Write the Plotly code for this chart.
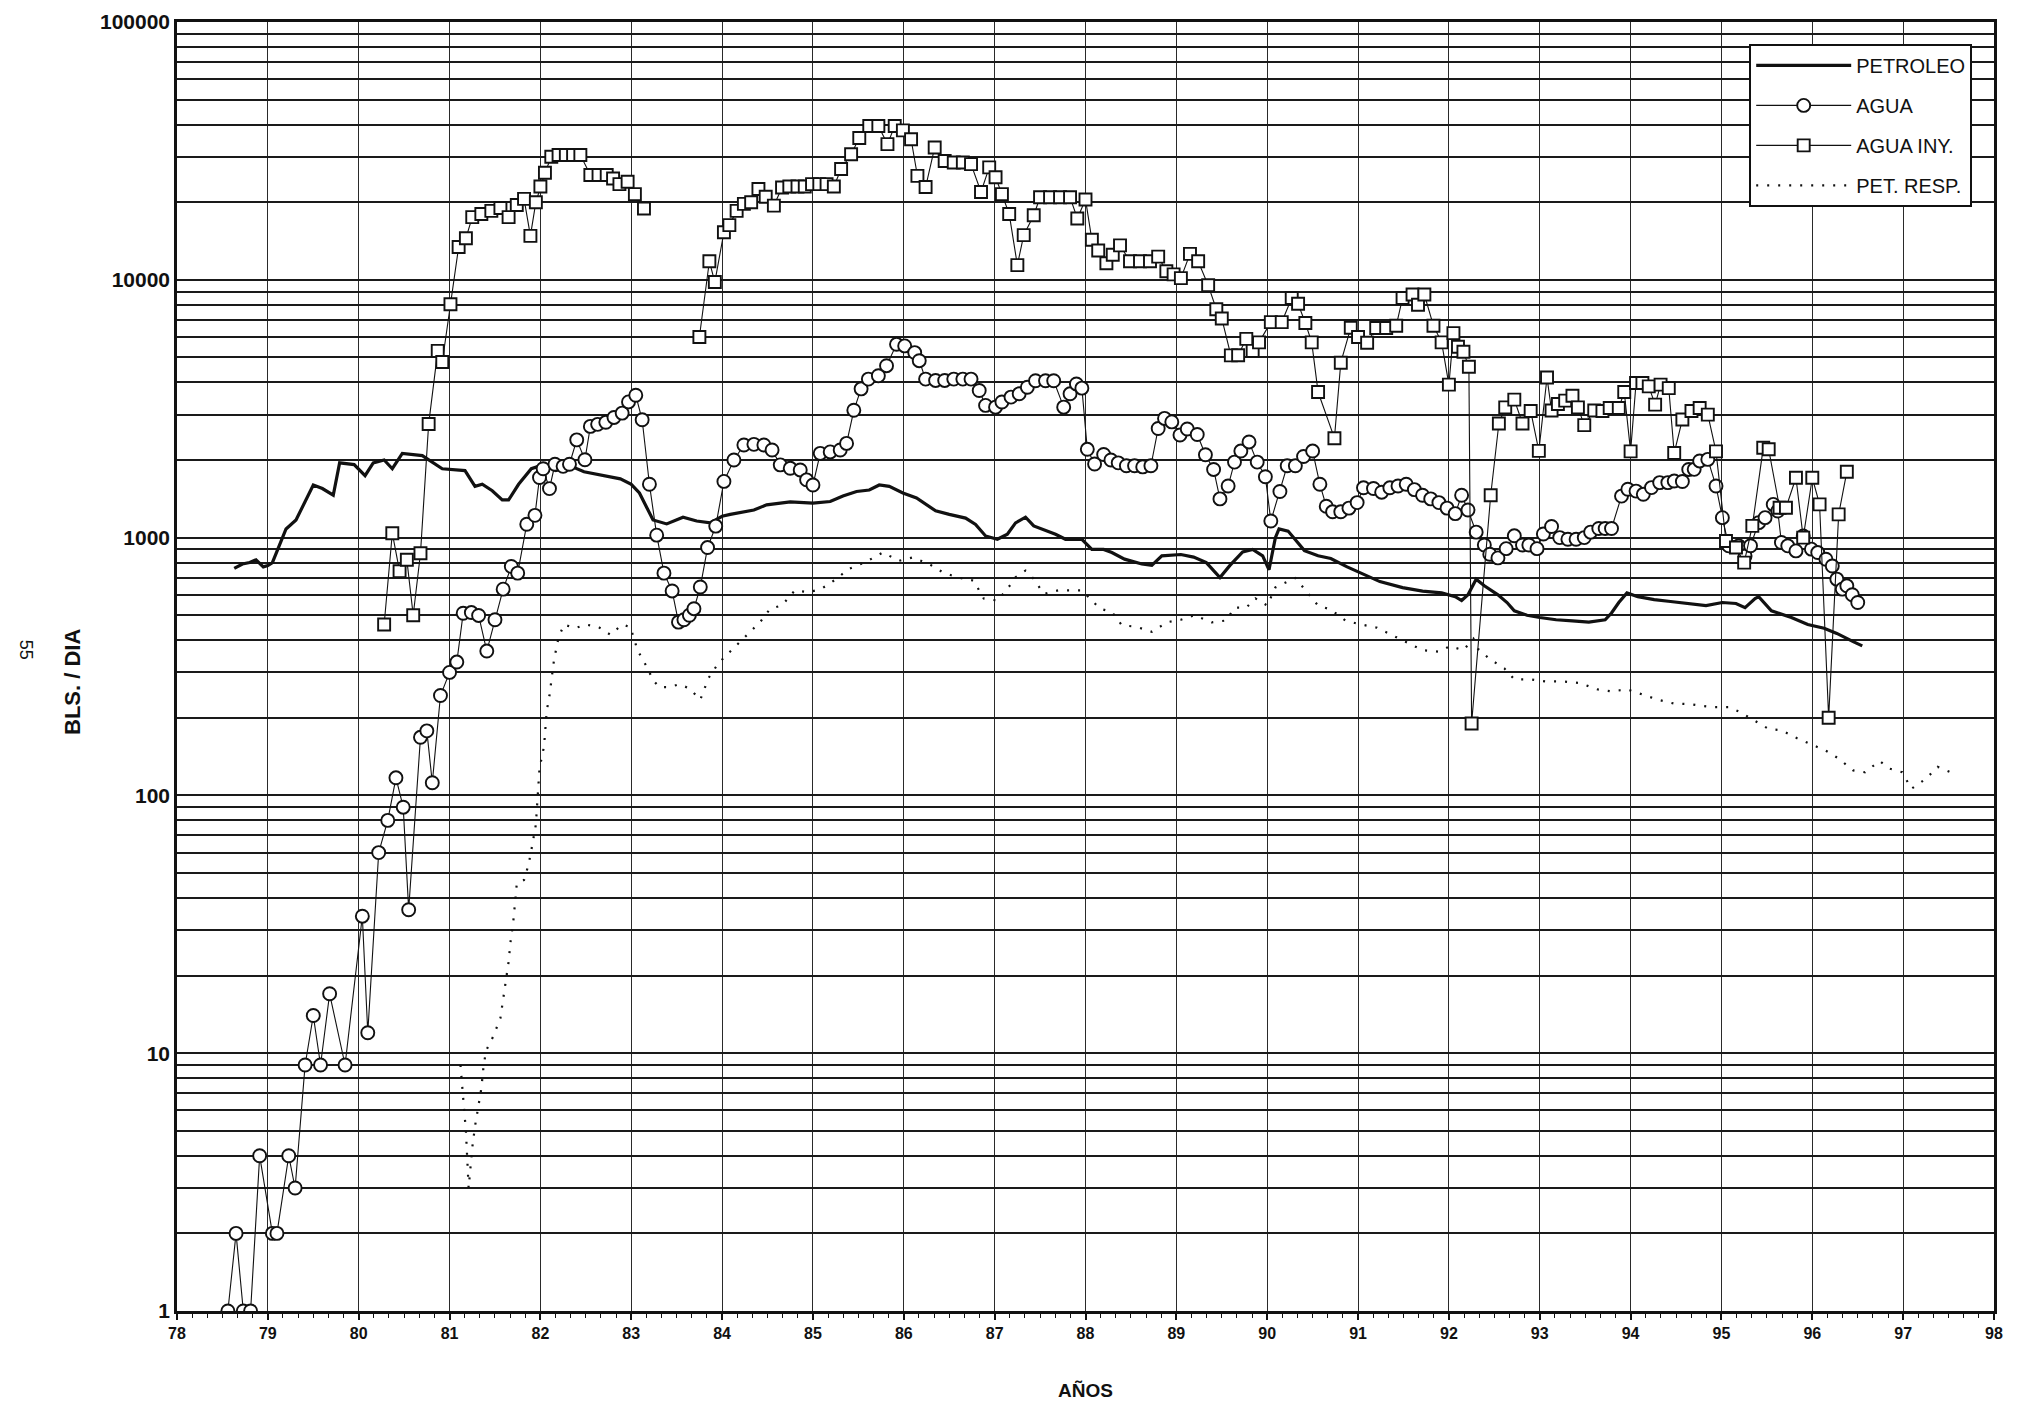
import plotly.graph_objects as go

# ---------------- data (years as decimal, values in BLS/DIA) ----------------
petroleo_t = [78.63, 78.72, 78.80, 78.87, 78.95, 79.00, 79.05, 79.20, 79.31, 79.50, 79.60, 79.72, 79.79, 79.95,
              80.07, 80.16, 80.28, 80.37, 80.48, 80.62, 80.70, 80.92, 81.06, 81.17, 81.28, 81.36, 81.47, 81.58,
              81.65, 81.76, 81.90, 82.04, 82.17, 82.34, 82.48, 82.68, 82.88, 83.00, 83.09, 83.24, 83.39, 83.57,
              83.72, 83.87, 84.00, 84.09, 84.35, 84.49, 84.75, 85.00, 85.19, 85.33, 85.48, 85.62, 85.73, 85.84,
              85.99, 86.14, 86.35, 86.50, 86.68, 86.79, 86.90, 87.03, 87.14, 87.23, 87.34, 87.43, 87.54, 87.67,
              87.78, 87.96, 88.07, 88.20, 88.29, 88.43, 88.62, 88.73, 88.84, 89.05, 89.19, 89.33, 89.48, 89.59,
              89.73, 89.84, 89.95, 90.02, 90.09, 90.13, 90.23, 90.41, 90.56, 90.70, 90.88, 91.06, 91.24, 91.49,
              91.71, 91.92, 92.07, 92.14, 92.21, 92.30, 92.39, 92.54, 92.64, 92.72, 92.86, 93.00, 93.18, 93.36,
              93.54, 93.72, 93.79, 93.87, 93.96, 94.08, 94.26, 94.44, 94.62, 94.83, 95.01, 95.16, 95.26, 95.37,
              95.41, 95.55, 95.77, 95.95, 96.13, 96.27, 96.45, 96.55]
petroleo_v = [760, 790, 800, 820, 770, 780, 800, 1080, 1170, 1600, 1550, 1460, 1950, 1920,
              1740, 1950, 2000, 1850, 2120, 2100, 2080, 1850, 1830, 1820, 1580, 1610, 1520, 1400,
              1400, 1610, 1850, 1920, 1820, 1890, 1800, 1740, 1690, 1610, 1490, 1170, 1130, 1200,
              1160, 1140, 1210, 1230, 1280, 1340, 1375, 1360, 1380, 1450, 1510, 1530, 1600, 1580,
              1490, 1425, 1270, 1230, 1190, 1125, 1015, 985, 1030, 1140, 1200, 1110, 1075, 1030,
              985, 985, 900, 900, 875, 825, 790, 780, 850, 860, 840, 800, 700, 780,
              880, 900, 850, 750, 1000, 1080, 1060, 890, 850, 830, 770, 720, 675, 640,
              620, 610, 590, 570, 600, 690, 650, 600, 560, 520, 500, 490, 480, 475,
              470, 480, 510, 560, 610, 590, 575, 565, 555, 545, 560, 555, 535, 580,
              590, 520, 490, 460, 445, 425, 395, 380]

agua_t = [78.56, 78.65, 78.73, 78.81, 78.91, 79.05, 79.10, 79.23, 79.30, 79.41, 79.50, 79.58, 79.68, 79.85,
          80.04, 80.10, 80.22, 80.32, 80.41, 80.49, 80.55, 80.68, 80.75, 80.81, 80.90, 81.00, 81.08, 81.15,
          81.24, 81.32, 81.41, 81.50, 81.59, 81.68, 81.75, 81.85, 81.94, 81.99, 82.03, 82.10, 82.16, 82.25,
          82.32, 82.40, 82.49, 82.55, 82.63, 82.72, 82.81, 82.90, 82.97, 83.05, 83.12, 83.20, 83.28, 83.36,
          83.45, 83.52, 83.58, 83.64, 83.69, 83.76, 83.84, 83.93, 84.02, 84.13, 84.24, 84.35, 84.46, 84.55,
          84.64, 84.75, 84.86, 84.93, 85.00, 85.08, 85.19, 85.30, 85.37, 85.45, 85.53, 85.61, 85.72, 85.81,
          85.92, 86.01, 86.12, 86.17, 86.24, 86.35, 86.45, 86.55, 86.65, 86.74, 86.83, 86.90, 87.01, 87.08,
          87.18, 87.27, 87.36, 87.45, 87.56, 87.65, 87.76, 87.83, 87.90, 87.96, 88.02, 88.10, 88.20, 88.28,
          88.36, 88.45, 88.54, 88.63, 88.72, 88.80, 88.87, 88.95, 89.04, 89.12, 89.23, 89.32, 89.41, 89.48,
          89.57, 89.64, 89.71, 89.80, 89.89, 89.98, 90.04, 90.14, 90.22, 90.31, 90.40, 90.50, 90.58, 90.65,
          90.72, 90.81, 90.90, 90.99, 91.06, 91.17, 91.26, 91.35, 91.44, 91.53, 91.62, 91.71, 91.80, 91.89,
          91.98, 92.07, 92.14, 92.21, 92.30, 92.39, 92.45, 92.54, 92.63, 92.72, 92.81, 92.88, 92.97, 93.04,
          93.13, 93.22, 93.31, 93.40, 93.49, 93.56, 93.65, 93.72, 93.79, 93.90, 93.97, 94.06, 94.14, 94.23,
          94.32, 94.41, 94.48, 94.57, 94.64, 94.70, 94.76, 94.85, 94.94, 95.01, 95.08, 95.19, 95.26, 95.32,
          95.41, 95.48, 95.57, 95.62, 95.66, 95.73, 95.82, 95.90, 95.99, 96.06, 96.15, 96.22, 96.27, 96.33,
          96.38, 96.44, 96.50]
agua_v = [1, 2, 1, 1, 4, 2, 2, 4, 3, 9, 14, 9, 17, 9,
          34, 12, 60, 80, 117, 90, 36, 168, 178, 112, 244, 300, 329, 509,
          512, 499, 363, 480, 631, 773, 728, 1127, 1220, 1710, 1849, 1549, 1925, 1890,
          1925, 2394, 2004, 2700, 2750, 2800, 2925, 3040, 3360, 3565, 2865, 1610, 1022, 728,
          621, 470, 480, 500, 530, 643, 915, 1108, 1652, 2000, 2287, 2300, 2287, 2187,
          1915, 1857, 1830, 1675, 1600, 2122, 2150, 2187, 2320, 3118, 3775, 4120, 4245, 4643,
          5620, 5540, 5220, 4855, 4120, 4070, 4070, 4120, 4120, 4120, 3720, 3257, 3207, 3356,
          3508, 3612, 3830, 4060, 4060, 4060, 3207, 3612, 3945, 3800, 2200, 1930, 2100, 2000,
          1950, 1900, 1900, 1880, 1900, 2650, 2900, 2810, 2500, 2637, 2512, 2096, 1838, 1413,
          1585, 1963, 2166, 2350, 1963, 1722, 1160, 1509, 1900, 1900, 2063, 2166, 1610, 1323,
          1259, 1259, 1301, 1367, 1560, 1550, 1500, 1560, 1585, 1610, 1535, 1460, 1413, 1367,
          1301, 1239, 1460, 1280, 1050, 936, 862, 834, 906, 1016, 936, 936, 906, 1033,
          1104, 1000, 985, 985, 1000, 1050, 1085, 1085, 1085, 1449, 1540, 1515, 1472, 1563,
          1634, 1634, 1657, 1650, 1838, 1840, 1983, 2011, 1585, 1195, 929, 929, 849, 930,
          1143, 1195, 1345, 1268, 957, 929, 888, 1015, 902, 875, 824, 776, 690, 631,
          650, 600, 560]

agua_iny_t = [80.28, 80.37, 80.45, 80.53, 80.60, 80.68, 80.77, 80.87, 80.92, 81.01, 81.10, 81.18, 81.25, 81.35,
              81.46, 81.56, 81.65, 81.74, 81.82, 81.89, 81.95, 82.00, 82.05, 82.12, 82.20, 82.28, 82.36, 82.44,
              82.55, 82.64, 82.73, 82.80, 82.87, 82.96, 83.04, 83.14, None,
              83.75, 83.86, 83.92, 84.02, 84.08, 84.16, 84.24, 84.32, 84.40, 84.48, 84.57, 84.66, 84.74,
              84.83, 84.91, 84.99, 85.07, 85.15, 85.23, 85.31, 85.42, 85.51, 85.62, 85.72, 85.82, 85.90, 85.99,
              86.08, 86.15, 86.24, 86.34, 86.45, 86.55, 86.65, 86.74, 86.85, 86.94, 87.01, 87.08, 87.16, 87.25,
              87.32, 87.43, 87.50, 87.61, 87.72, 87.83, 87.91, 88.00, 88.07, 88.14, 88.23, 88.30, 88.38, 88.49,
              88.60, 88.71, 88.80, 88.89, 88.97, 89.05, 89.15, 89.24, 89.35, 89.44, 89.50, 89.60, 89.68, 89.77,
              89.84, 89.91, 90.04, 90.16, 90.27, 90.34, 90.42, 90.49, 90.56, 90.74, 90.81, 90.92, 91.00, 91.10,
              91.20, 91.31, 91.42, 91.49, 91.60, 91.66, 91.73, 91.83, 91.92, 92.00, 92.05, 92.10, 92.16, 92.22,
              92.25, 92.46, 92.55, 92.62, 92.72, 92.81, 92.90, 92.99, 93.08, 93.13, 93.20, 93.28, 93.36, 93.42,
              93.49, 93.60, 93.69, 93.77, 93.87, 93.93, 94.00, 94.06, 94.13, 94.20, 94.27, 94.33, 94.42, 94.48,
              94.57, 94.67, 94.76, 94.85, 94.94, 95.05, 95.16, 95.25, 95.34, 95.46, 95.52, 95.64, 95.71, 95.82,
              95.90, 96.00, 96.08, 96.18, 96.29, 96.38]
agua_iny_v = [460, 1040, 740, 820, 500, 870, 2757, 5300, 4800, 8040, 13400, 14500, 17500, 18000,
              18500, 19000, 17500, 19500, 20600, 14800, 20000, 23000, 26000, 30000, 30500, 30500, 30500, 30500,
              25500, 25500, 25500, 24700, 23500, 24000, 21500, 18900, None,
              6000, 11800, 9800, 15300, 16300, 18500, 19700, 20000, 22500, 21000, 19400, 22800, 23000,
              23000, 23000, 23500, 23500, 23500, 23000, 26900, 30700, 35500, 39500, 39500, 33600, 39500, 38000,
              35100, 25300, 22900, 32600, 28900, 28500, 28500, 28100, 21900, 27300, 25000, 21500, 18000, 11400,
              14900, 17800, 20900, 20900, 20900, 20900, 17300, 20500, 14300, 13000, 11600, 12500, 13600, 11800,
              11800, 11800, 12300, 10800, 10500, 10150, 12600, 11800, 9530, 7690, 7080, 5090, 5100, 5900,
              5300, 5720, 6850, 6850, 8500, 8070, 6800, 5720, 3670, 2430, 4770, 6520, 6000, 5700,
              6500, 6500, 6630, 8500, 8770, 8000, 8770, 6630, 5720, 3920, 6210, 5500, 5260, 4600,
              190, 1460, 2770, 3200, 3430, 2770, 3100, 2170, 4180, 3110, 3300, 3400, 3550, 3200,
              2730, 3110, 3100, 3180, 3180, 3670, 2160, 3980, 3980, 3860, 3280, 3920, 3800, 2130,
              2870, 3100, 3180, 3000, 2160, 970, 915, 800, 1110, 2230, 2200, 1306, 1306, 1707,
              1000, 1707, 1346, 200, 1230, 1800]

pet_resp_t = [81.12, 81.15, 81.18, 81.21, 81.23, 81.25, 81.28, 81.32, 81.35, 81.37, 81.40, 81.48, 81.56, 81.59,
              81.62, 81.65, 81.67, 81.70, 81.72, 81.74, 81.82, 81.87, 81.91, 81.95, 81.99, 82.04, 82.07, 82.10,
              82.15, 82.20, 82.26, 82.38, 82.50, 82.64, 82.77, 82.90, 82.99, 83.07, 83.17, 83.24, 83.31, 83.42,
              83.53, 83.64, 83.76, 83.85, 83.96, 84.09, 84.42, 84.53, 84.66, 84.80, 84.95, 85.09, 85.26, 85.39,
              85.57, 85.77, 85.95, 86.10, 86.28, 86.43, 86.59, 86.77, 86.88, 87.03, 87.14, 87.23, 87.34, 87.43,
              87.54, 87.70, 87.96, 88.16, 88.29, 88.40, 88.56, 88.73, 88.90, 89.05, 89.20, 89.39, 89.55, 89.64,
              89.77, 89.87, 90.00, 90.09, 90.31, 90.56, 90.70, 90.86, 91.01, 91.21, 91.53, 91.71, 91.89, 92.01,
              92.16, 92.27, 92.32, 92.45, 92.61, 92.72, 92.90, 93.06, 93.24, 93.44, 93.63, 93.79, 93.96, 94.14,
              94.30, 94.48, 94.65, 94.76, 94.90, 95.08, 95.21, 95.52, 95.66, 95.81, 95.97, 96.15, 96.29, 96.45,
              96.58, 96.74, 96.85, 96.99, 97.09, 97.25, 97.38, 97.52]
pet_resp_v = [9, 6.5, 5, 3, 3.7, 4.3, 5.2, 6.2, 7.3, 8.6, 10.2, 11.6, 13.7, 16.2,
              19.1, 22.6, 26.8, 32, 38, 45.5, 47, 54, 64, 77, 127, 155, 213, 244,
              336, 410, 460, 445, 460, 450, 420, 460, 450, 365, 316, 280, 263, 263,
              270, 260, 235, 285, 326, 361, 471, 530, 546, 624, 614, 632, 692, 755,
              801, 875, 813, 838, 789, 733, 701, 681, 580, 570, 632, 701, 745, 692,
              605, 624, 624, 530, 515, 457, 451, 431, 470, 480, 500, 469, 477, 535,
              535, 581, 545, 641, 697, 545, 526, 477, 462, 447, 392, 366, 361, 379,
              366, 405, 370, 338, 311, 282, 282, 277, 277, 273, 258, 253, 258, 245,
              235, 227, 226, 223, 220, 220, 210, 181, 179, 168, 159, 149, 139, 125,
              123, 136, 127, 123, 106, 116, 129, 123]

year_ticks = list(range(78, 99))
year_labels = [str(y) for y in year_ticks]
decades = [1, 10, 100, 1000, 10000]
y_grid_vals = [d * m for d in decades for m in range(1, 10)] + [100000]
y_grid_text = [str(v) if str(v).startswith("1") and set(str(v)[1:]) <= {"0"} else "" for v in y_grid_vals]

# ---------------- figure ----------------
INK = "#111111"
fig = go.Figure()

fig.add_trace(go.Scatter(
    x=petroleo_t, y=petroleo_v, name="PETROLEO", mode="lines",
    line=dict(color=INK, width=3.2), legendgroup="a"))
fig.add_trace(go.Scatter(
    x=agua_t, y=agua_v, name="AGUA", mode="lines+markers",
    line=dict(color=INK, width=1.1),
    marker=dict(symbol="circle", size=13, color="white", line=dict(color=INK, width=1.9)),
    legendgroup="b"))
fig.add_trace(go.Scatter(
    x=agua_iny_t, y=agua_iny_v, name="AGUA INY.", mode="lines+markers",
    line=dict(color=INK, width=1.1), connectgaps=False,
    marker=dict(symbol="square", size=12, color="white", line=dict(color=INK, width=1.9)),
    legendgroup="c"))
fig.add_trace(go.Scatter(
    x=pet_resp_t, y=pet_resp_v, name="PET. RESP.", mode="lines",
    line=dict(color=INK, width=2.2, dash="2px,9px"), legendgroup="d"))

fig.update_layout(
    width=2028, height=1405,
    margin=dict(l=169, r=42, t=14, b=102, autoexpand=False),
    paper_bgcolor="white", plot_bgcolor="white",
    font=dict(family="Liberation Sans, Arial, sans-serif", color=INK),
    showlegend=True,
    legend=dict(
        x=0.988, y=0.983, xanchor="right", yanchor="top",
        bgcolor="white", bordercolor=INK, borderwidth=2,
        font=dict(size=20, family="Liberation Sans, Arial, sans-serif", color=INK),
        itemwidth=95, tracegroupgap=11, traceorder="grouped",
    ),
    xaxis=dict(
        range=[78, 98], tickmode="array", tickvals=year_ticks, ticktext=year_labels,
        showgrid=True, gridcolor="#2a2a2a", gridwidth=1, automargin=False,
        showline=True, linecolor=INK, linewidth=2.5, mirror=True,
        ticks="outside", ticklen=6, tickcolor=INK, tickwidth=1.5,
        tickfont=dict(size=16, family="Liberation Sans, Arial", weight="bold"),
        minor=dict(dtick=1/6, ticks="outside", ticklen=4, tickcolor=INK, tickwidth=1, showgrid=False),
        zeroline=False,
    ),
    yaxis=dict(
        type="log", range=[0, 5], tickmode="array", tickvals=y_grid_vals, ticktext=y_grid_text,
        showgrid=True, gridcolor="#1a1a1a", gridwidth=1.6, automargin=False,
        showline=True, linecolor=INK, linewidth=2.5, mirror=True,
        ticks="", ticklabeloverflow="allow",
        tickfont=dict(size=21, family="Liberation Sans, Arial", weight="bold"),
        zeroline=False,
    ),
    annotations=[
        dict(text="<b>BLS. / DIA</b>", xref="paper", yref="paper", x=0, y=0.488,
             xshift=-104, textangle=-90, showarrow=False, font=dict(size=22, color=INK),
             xanchor="center", yanchor="middle"),
        dict(text="55", xref="paper", yref="paper", x=0, y=0.513,
             xshift=-151, textangle=90, showarrow=False, font=dict(size=18, color=INK),
             xanchor="center", yanchor="middle"),
        dict(text="<b>AÑOS</b>", xref="paper", yref="paper", x=0.5, y=0,
             yshift=-79, showarrow=False, font=dict(size=19, color=INK),
             xanchor="center", yanchor="middle"),
    ],
)

fig.write_html("out.html")
